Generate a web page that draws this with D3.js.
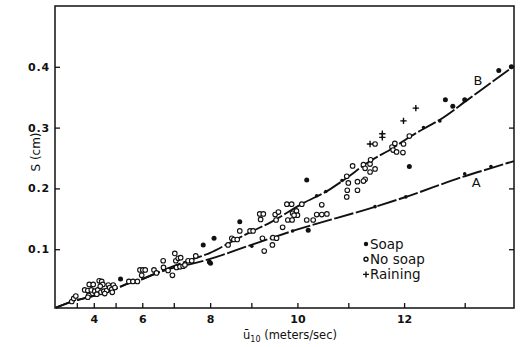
<!DOCTYPE html>
<html>
<head>
<meta charset="utf-8">
<script src="https://cdn.jsdelivr.net/npm/d3@7"></script>
<style>
  body { margin: 0; background: #fff; }
  svg { display: block; }
  text { font-family: "DejaVu Sans", "Noto Sans", sans-serif; fill: #111; }
</style>
</head>
<body>
<svg id="chart" width="522" height="347"></svg>
<script>
// Wind speed ticks (m/s) and slope ticks (cm)
const xTicks = [3, 4, 5, 6, 7, 8, 9, 10, 11, 12, 13];
const xLabeled = [4, 6, 8, 10, 12];
const yTicks = [0.1, 0.2, 0.3, 0.4];

// Fitted curves: [u10, S]
const curveA = [[0.6,0.004],[2.5,0.013],[3.95,0.023],[4.9,0.033],[5.45,0.043],[5.9,0.049],[6.35,0.058],[6.9,0.068],[7.45,0.075],[8.0,0.084],[8.95,0.106],[9.9,0.130],[11.5,0.170],[12.0,0.185],[13.0,0.220],[13.4,0.233],[13.76,0.245]];
const curveB = [[0.6,0.004],[2.5,0.013],[3.95,0.023],[4.9,0.033],[5.45,0.043],[5.9,0.049],[6.35,0.058],[6.9,0.070],[7.45,0.082],[8.0,0.094],[8.5,0.111],[9.0,0.129],[9.45,0.145],[10.1,0.175],[10.6,0.196],[10.9,0.213],[11.4,0.245],[11.8,0.266],[12.1,0.285],[12.35,0.299],[12.6,0.313],[13.05,0.346],[13.4,0.373],[13.76,0.401]];
const curveLabels = [["A", 13.18, 0.209], ["B", 13.21, 0.377]];

// Observations: [u10, S]
const noSoap = [
  [2.63,0.014],[2.78,0.019],[2.93,0.023],
  [3.50,0.033],[3.68,0.032],[3.87,0.033],[4.05,0.031],[4.20,0.033],[4.35,0.029],[4.49,0.031],[4.62,0.032],
  [3.73,0.024],[4.15,0.026],[4.53,0.027],[3.68,0.021],
  [3.76,0.042],[3.97,0.042],[4.27,0.048],[4.39,0.047],[4.44,0.042],[4.32,0.039],
  [4.69,0.041],[4.75,0.037],[4.84,0.034],[4.90,0.041],[4.86,0.029],[4.97,0.037],
  [5.52,0.047],[5.67,0.047],[5.83,0.047],
  [5.92,0.066],[6.02,0.066],[6.10,0.066],[5.98,0.057],
  [6.39,0.066],[6.47,0.061],
  [6.68,0.081],[6.69,0.070],[6.83,0.065],[6.96,0.057],
  [7.03,0.093],[7.06,0.081],[7.13,0.085],[7.20,0.086],
  [7.08,0.070],[7.18,0.071],[7.27,0.072],[7.32,0.074],
  [7.41,0.081],[7.51,0.081],[7.62,0.089],
  [8.45,0.107],[8.54,0.118],[8.59,0.116],[8.67,0.116],
  [8.73,0.130],[8.97,0.130],[9.04,0.130],
  [9.25,0.118],[9.29,0.097],
  [9.19,0.158],[9.27,0.158],[9.21,0.149],
  [9.47,0.107],[9.48,0.119],[9.56,0.118],
  [9.53,0.157],[9.60,0.161],[9.55,0.148],[9.69,0.136],
  [9.78,0.174],[9.88,0.174],[9.80,0.148],[9.89,0.148],
  [9.90,0.159],[9.98,0.163],[10.00,0.156],[9.93,0.156],
  [10.09,0.174],[10.19,0.148],[10.32,0.148],
  [10.39,0.157],[10.49,0.157],[10.59,0.158],[10.49,0.173],
  [10.97,0.220],[11.00,0.209],[10.98,0.197],[10.97,0.186],
  [11.08,0.237],[11.28,0.239],[11.31,0.233],[11.40,0.240],[11.40,0.227],[11.49,0.232],
  [11.79,0.268],[11.84,0.274],[11.81,0.263],[11.87,0.260],[11.99,0.273],[11.98,0.259],[12.09,0.286],
  [11.31,0.215],[11.28,0.212],[11.17,0.211],[11.17,0.197],
  [11.49,0.273],[11.41,0.247]
];
const soap = [
  [5.20,0.051],[7.82,0.107],[8.10,0.118],[8.73,0.145],[7.98,0.079],[8.01,0.077],
  [10.19,0.214],[10.22,0.131],[12.09,0.236],[12.69,0.346],[12.81,0.335],[13.00,0.346],
  [13.53,0.394],[13.72,0.400]
];
const soapOnA = [[9.01,0.105],[9.90,0.130],[11.49,0.170],[12.03,0.186],[13.00,0.224],[13.41,0.236]];
const soapOnB = [[10.39,0.188],[10.57,0.195],[10.88,0.213],[12.33,0.300],[12.60,0.311]];
const raining = [[11.40,0.273],[11.62,0.290],[11.62,0.284],[11.99,0.311],[12.20,0.332]];

const legendItems = ["Soap", "No soap", "Raining"];

const ink = "#111";
const plot = { left: 55, right: 514, top: 6, bottom: 308 };

// Horizontal axis is linear in u10 squared
const x = d3.scalePow().exponent(2).domain([0, 13.76]).range([plot.left, plot.right]);
const y = d3.scaleLinear().domain([0.0033, 0.5]).range([plot.bottom, plot.top]);

const svg = d3.select("#chart");

// Frame
svg.append("rect")
  .attr("x", plot.left).attr("y", plot.top)
  .attr("width", plot.right - plot.left).attr("height", plot.bottom - plot.top)
  .attr("fill", "none").attr("stroke", ink).attr("stroke-width", 1.5);

function styleAxis(g, size) {
  g.select(".domain").remove();
  g.selectAll(".tick line").attr("stroke", ink).attr("stroke-width", 1.3);
  g.selectAll(".tick text").attr("font-size", size).attr("font-weight", "bold").attr("fill", ink);
}

// Bottom axis: inward ticks, even values labelled
svg.append("g")
  .attr("transform", `translate(0,${plot.bottom})`)
  .call(d3.axisBottom(x).tickValues(xTicks).tickSizeInner(-5).tickSizeOuter(0).tickPadding(7)
    .tickFormat(d => xLabeled.includes(d) ? d : ""))
  .call(g => styleAxis(g, 11));

// Left axis
svg.append("g")
  .attr("transform", `translate(${plot.left},0)`)
  .call(d3.axisLeft(y).tickValues(yTicks).tickSizeInner(-5).tickSizeOuter(0).tickPadding(5)
    .tickFormat(d3.format(".1f")))
  .call(g => styleAxis(g, 11))
  .call(g => g.selectAll(".tick text").attr("letter-spacing", 0.8));

// Right axis, ticks only
svg.append("g")
  .attr("transform", `translate(${plot.right},0)`)
  .call(d3.axisRight(y).tickValues(yTicks).tickSizeInner(-5).tickSizeOuter(0).tickFormat(""))
  .call(g => styleAxis(g, 11));

// Axis titles
const xt = svg.append("text").attr("x", 243).attr("y", 339).attr("font-size", 11.5);
xt.append("tspan").text("ū");
xt.append("tspan").attr("dy", 3).attr("font-size", 8).text("10");
xt.append("tspan").attr("dy", -3).text(" (meters/sec)");

svg.append("text")
  .attr("transform", "translate(40,152) rotate(-90)")
  .attr("text-anchor", "middle")
  .attr("font-size", 12)
  .text("S (cm)");

// Curves
const line = d3.line().x(d => x(d[0])).y(d => y(d[1])).curve(d3.curveMonotoneX);
[curveA, curveB].forEach(c => {
  svg.append("path")
    .attr("d", line(c))
    .attr("fill", "none").attr("stroke", ink).attr("stroke-width", 1.9)
    .attr("stroke-dasharray", "20,2.5");
});

svg.selectAll(".curve-label").data(curveLabels).join("text")
  .attr("class", "curve-label")
  .attr("x", d => x(d[1])).attr("y", d => y(d[2]))
  .attr("text-anchor", "middle").attr("dominant-baseline", "central")
  .attr("font-size", 13)
  .text(d => d[0]);

// Observations
svg.append("g").selectAll("circle").data(noSoap).join("circle")
  .attr("cx", d => x(d[0])).attr("cy", d => y(d[1])).attr("r", 2.3)
  .attr("fill", "#fff").attr("stroke", ink).attr("stroke-width", 1.1);

svg.append("g").selectAll("circle").data(soap).join("circle")
  .attr("cx", d => x(d[0])).attr("cy", d => y(d[1])).attr("r", 2.5)
  .attr("fill", ink);

svg.append("g").selectAll("circle").data(soapOnA.concat(soapOnB)).join("circle")
  .attr("cx", d => x(d[0])).attr("cy", d => y(d[1])).attr("r", 1.8)
  .attr("fill", ink);

const plus = (cx, cy, a) => `M${cx - a},${cy}H${cx + a}M${cx},${cy - a}V${cy + a}`;
const rainG = svg.append("g");
rainG.selectAll("path").data(raining).join("path")
  .attr("d", d => plus(x(d[0]), y(d[1]), 3.2))
  .attr("stroke", ink).attr("stroke-width", 1.4).attr("fill", "none");
rainG.selectAll("circle").data(raining).join("circle")
  .attr("cx", d => x(d[0])).attr("cy", d => y(d[1])).attr("r", 1.1).attr("fill", ink);

// Legend
const lg = svg.append("g").attr("transform", "translate(366,244)");
legendItems.forEach((name, i) => {
  const gy = i * 15.2;
  if (i === 0) lg.append("circle").attr("cx", 0).attr("cy", gy).attr("r", 2.2).attr("fill", ink);
  if (i === 1) lg.append("circle").attr("cx", 0).attr("cy", gy).attr("r", 2.0)
    .attr("fill", "#fff").attr("stroke", ink).attr("stroke-width", 1.4);
  if (i === 2) lg.append("path").attr("d", plus(0, gy, 3)).attr("stroke", ink).attr("stroke-width", 1.4);
  lg.append("text").attr("x", 4).attr("y", gy + 5).attr("font-size", 13.5).text(name);
});
</script>
</body>
</html>
